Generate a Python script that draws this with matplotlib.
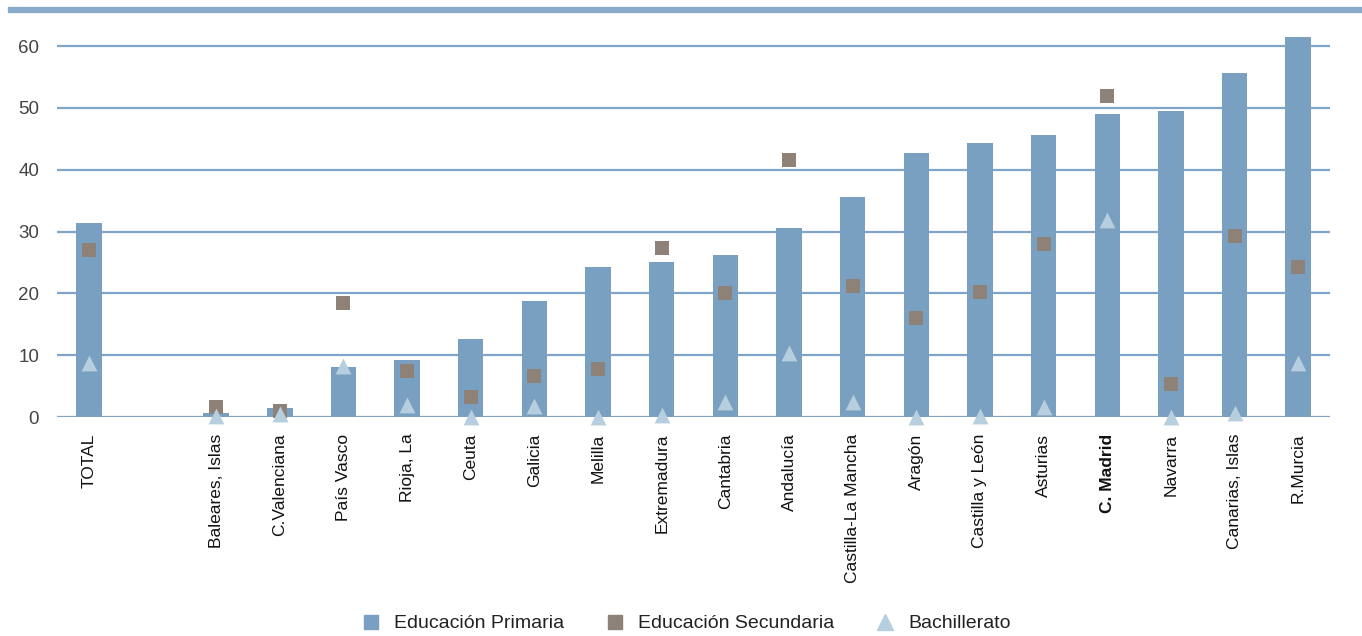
import matplotlib
matplotlib.use("Agg")
import matplotlib.pyplot as plt
from matplotlib import font_manager
from matplotlib.lines import Line2D
import numpy as np

categories = ["TOTAL", "", "Baleares, Islas", "C.Valenciana", "País Vasco", "Rioja, La",
              "Ceuta", "Galicia", "Melilla", "Extremadura", "Cantabria", "Andalucía",
              "Castilla-La Mancha", "Aragón", "Castilla y León", "Asturias", "C. Madrid",
              "Navarra", "Canarias, Islas", "R.Murcia"]
primaria = [31.4, np.nan, 0.7, 1.4, 8.1, 9.2, 12.6, 18.8, 24.3, 25.0, 26.2, 30.5,
            35.6, 42.7, 44.3, 45.6, 49.1, 49.5, 55.6, 61.4]
secundaria = [27.0, np.nan, 1.6, 1.0, 18.4, 7.4, 3.2, 6.7, 7.7, 27.4, 20.0, 41.6,
              21.2, 16.1, 20.3, 28.0, 51.9, 5.4, 29.3, 24.2]
bachillerato = [8.7, np.nan, 0.2, 0.5, 8.3, 1.9, 0.0, 1.8, 0.0, 0.3, 2.5, 10.3,
                2.5, 0.0, 0.2, 1.6, 31.9, 0.0, 0.6, 8.7]
yticks = [0, 10, 20, 30, 40, 50, 60]
series_names = ["Educación Primaria", "Educación Secundaria", "Bachillerato"]

available = {f.name for f in font_manager.fontManager.ttflist}
fam = "Liberation Sans Narrow" if "Liberation Sans Narrow" in available else "Liberation Sans"
plt.rcParams['font.family'] = [fam, 'DejaVu Sans']

c_bar = "#7AA0C1"
c_sec = "#8E8178"
c_bac = "#B7CEDF"
c_grid = "#7FA6CA"

fig = plt.figure(figsize=(13.62, 6.36), dpi=100)
ax = fig.add_axes([0.0419, 0.3443, 0.9346, 0.6123])

x = np.arange(len(categories))
ax.bar(x, primaria, width=0.40, color=c_bar, zorder=2)
ax.scatter(x, secundaria, marker="s", s=110, color=c_sec, zorder=3, linewidths=0, clip_on=False)
ax.scatter(x, bachillerato, marker="^", s=130, color=c_bac, zorder=4, linewidths=0, clip_on=False)

for t in yticks:
    ax.axhline(t, color=c_grid, lw=1.6, zorder=1)

ax.set_xlim(-0.5, len(categories) - 0.5)
ax.set_ylim(0, 63)
ax.set_yticks(yticks)
ax.set_yticklabels([str(t) for t in yticks], fontsize=13.5, color="#444444")
ax.set_xticks(x)
ax.set_xticklabels(categories, rotation=90, fontsize=12.5, color="#111111", va="top")
for lbl in ax.get_xticklabels():
    if lbl.get_text() == "C. Madrid":
        lbl.set_fontweight("bold")
ax.tick_params(axis="both", length=0)
ax.tick_params(axis="x", pad=12)
ax.tick_params(axis="y", pad=13)
for s in ax.spines.values():
    s.set_visible(False)

# decorative top rule
fig.add_artist(Line2D([11 / 1362, 1.0], [1 - 10 / 636, 1 - 10 / 636], color="#88AACB", lw=4.5))

handles = [
    Line2D([], [], marker="s", linestyle="none", color=c_bar, markersize=10),
    Line2D([], [], marker="s", linestyle="none", color=c_sec, markersize=10),
    Line2D([], [], marker="^", linestyle="none", color=c_bac, markersize=11),
]
fig.legend(handles, series_names, loc="lower center", bbox_to_anchor=(0.5, -0.022), ncol=3,
           frameon=False, fontsize=14, handletextpad=0.2, columnspacing=1.6,
           labelcolor="#222222")

fig.savefig("out.png", dpi=100)
